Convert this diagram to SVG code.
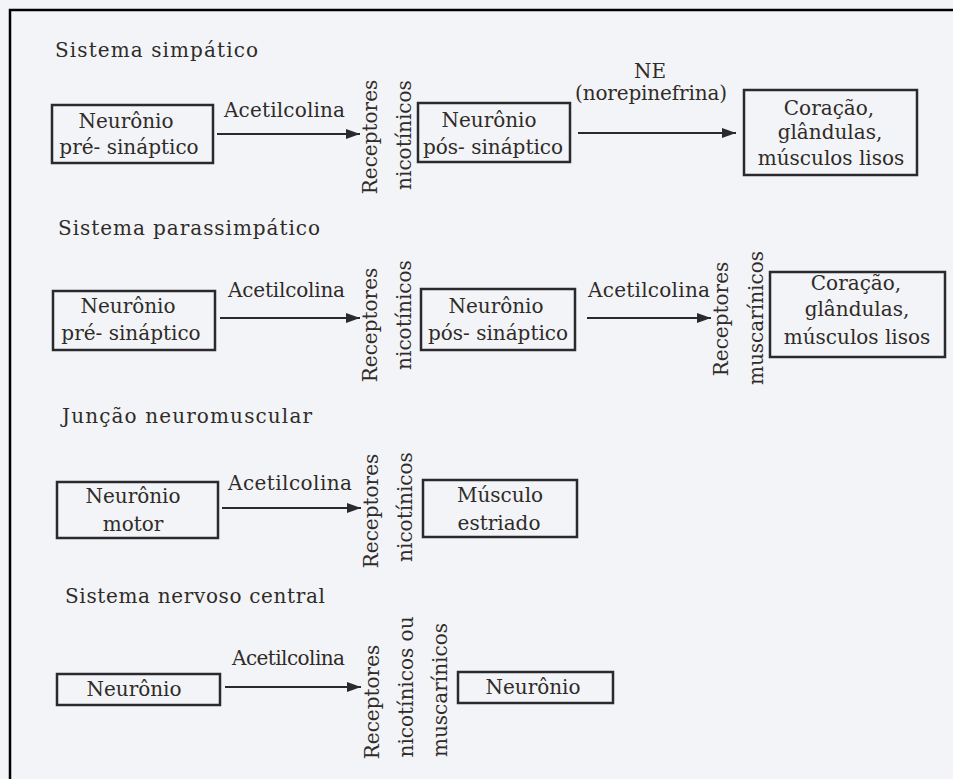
<svg xmlns="http://www.w3.org/2000/svg" width="953" height="779" viewBox="0 0 953 779">
<defs>
<marker id="ah" viewBox="0 0 14 10" refX="14" refY="5" markerWidth="14" markerHeight="10" markerUnits="userSpaceOnUse" orient="auto">
<path d="M0,0 L14,5 L0,10 Z" fill="#2a2a2e"/>
</marker>
<style>
text{font-family:"DejaVu Serif","Liberation Serif",serif;fill:#2f2b28;font-size:20px}
.t{font-size:20px}
.c{text-anchor:middle}
.box{fill:none;stroke:#2a2a2e;stroke-width:2.5}
.arr{stroke:#2a2a2e;stroke-width:2;fill:none;marker-end:url(#ah)}
.frame{stroke:#000;stroke-width:2.5;fill:none}
</style>
</defs>
<rect x="0" y="0" width="953" height="779" fill="#f3f4f7"/>
<path class="frame" d="M10,779 L10,10 L953,10"/>

<g id="titles">
<text class="t" x="55" y="57" textLength="203" lengthAdjust="spacing">Sistema simpático</text>
<text class="t" x="58" y="235" textLength="262" lengthAdjust="spacing">Sistema parassimpático</text>
<text class="t" x="62" y="423" textLength="250" lengthAdjust="spacing">Junção neuromuscular</text>
<text class="t" x="65" y="603" textLength="260" lengthAdjust="spacing">Sistema nervoso central</text>
</g>

<g id="connectors">
<line class="arr" x1="217" y1="134" x2="360" y2="134"/>
<line class="arr" x1="578" y1="133" x2="736" y2="133"/>
<line class="arr" x1="220" y1="318" x2="360" y2="318"/>
<line class="arr" x1="587" y1="318" x2="711" y2="318"/>
<line class="arr" x1="222" y1="508" x2="361" y2="508"/>
<line class="arr" x1="225" y1="687" x2="361" y2="687"/>
</g>

<g id="labels">
<text x="224" y="117" textLength="121" lengthAdjust="spacing">Acetilcolina</text>
<text class="c" x="650" y="78">NE</text>
<text x="575" y="100" textLength="152" lengthAdjust="spacing">(norepinefrina)</text>
<text x="228" y="297" textLength="117" lengthAdjust="spacing">Acetilcolina</text>
<text x="588" y="297" textLength="122" lengthAdjust="spacing">Acetilcolina</text>
<text x="228" y="490" textLength="124" lengthAdjust="spacing">Acetilcolina</text>
<text x="232" y="665" textLength="113" lengthAdjust="spacing">Acetilcolina</text>
</g>

<g id="receptors-1">
<text class="c" transform="translate(377,137) rotate(-90)">Receptores</text>
<text class="c" transform="translate(411,135) rotate(-90)">nicotínicos</text>
</g>
<g id="receptors-2a">
<text class="c" transform="translate(377,325) rotate(-90)">Receptores</text>
<text class="c" transform="translate(411,315) rotate(-90)">nicotínicos</text>
</g>
<g id="receptors-2b">
<text class="c" transform="translate(728,319) rotate(-90)">Receptores</text>
<text class="c" transform="translate(763,318) rotate(-90)">muscarínicos</text>
</g>
<g id="receptors-3">
<text class="c" transform="translate(378,511) rotate(-90)">Receptores</text>
<text class="c" transform="translate(412,507) rotate(-90)">nicotínicos</text>
</g>
<g id="receptors-4">
<text class="c" transform="translate(379,702) rotate(-90)">Receptores</text>
<text class="c" transform="translate(413,687) rotate(-90)">nicotínicos ou</text>
<text class="c" transform="translate(447,690) rotate(-90)">muscarínicos</text>
</g>

<g id="n1-pre">
<rect class="box" x="52" y="105" width="161" height="58"/>
<text class="c" x="126" y="128">Neurônio</text>
<text class="c" x="129" y="154">pré- sináptico</text>
</g>
<g id="n1-pos">
<rect class="box" x="418" y="103" width="152" height="59"/>
<text class="c" x="489" y="127">Neurônio</text>
<text class="c" x="493" y="154">pós- sináptico</text>
</g>
<g id="n1-target">
<rect class="box" x="744" y="90" width="173" height="85"/>
<text class="c" x="829" y="115">Coração,</text>
<text class="c" x="830" y="139">glândulas,</text>
<text class="c" x="831" y="165">músculos lisos</text>
</g>

<g id="n2-pre">
<rect class="box" x="53" y="291" width="162" height="59"/>
<text class="c" x="128" y="313">Neurônio</text>
<text class="c" x="131" y="340">pré- sináptico</text>
</g>
<g id="n2-pos">
<rect class="box" x="421" y="289" width="154" height="61"/>
<text class="c" x="496" y="313">Neurônio</text>
<text class="c" x="498" y="340">pós- sináptico</text>
</g>
<g id="n2-target">
<rect class="box" x="770" y="272" width="175" height="85"/>
<text class="c" x="856" y="290">Coração,</text>
<text class="c" x="857" y="316">glândulas,</text>
<text class="c" x="857" y="344">músculos lisos</text>
</g>

<g id="n3-motor">
<rect class="box" x="57" y="482" width="161" height="56"/>
<text class="c" x="133" y="503">Neurônio</text>
<text class="c" x="133" y="531">motor</text>
</g>
<g id="n3-muscle">
<rect class="box" x="423" y="480" width="154" height="57"/>
<text class="c" x="500" y="502">Músculo</text>
<text class="c" x="499" y="530">estriado</text>
</g>

<g id="n4-neuron">
<rect class="box" x="57" y="674" width="163" height="31"/>
<text class="c" x="134" y="696">Neurônio</text>
</g>
<g id="n4-neuron-target">
<rect class="box" x="458" y="672" width="155" height="31"/>
<text class="c" x="533" y="694">Neurônio</text>
</g>
</svg>
